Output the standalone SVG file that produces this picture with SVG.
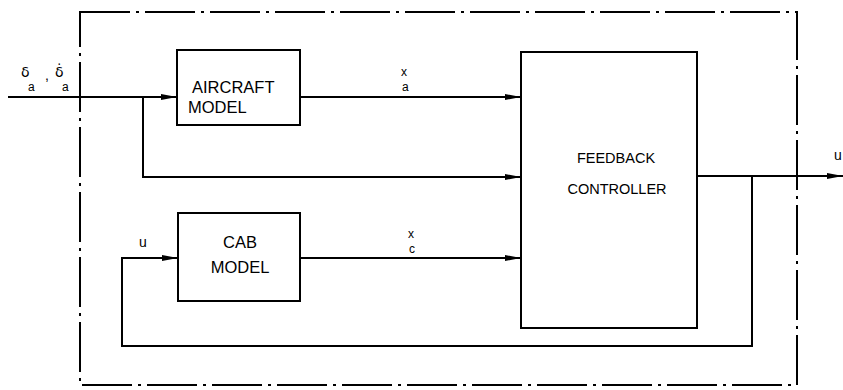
<svg xmlns="http://www.w3.org/2000/svg" width="843" height="390" viewBox="0 0 843 390">
<defs>
<marker id="ah" viewBox="0 0 16 8" refX="16" refY="4" markerWidth="16" markerHeight="8" markerUnits="userSpaceOnUse" orient="auto">
<path d="M0,1 L16,4 L0,7 Z" fill="#000"/>
</marker>
<style>
.ln{fill:none;stroke:#000;stroke-width:2}
.box{fill:#fff;stroke:#000;stroke-width:2}
.dash{fill:none;stroke:#000;stroke-width:2;stroke-dasharray:50 6 3 6}
.t{font-family:"Liberation Sans",Arial,sans-serif;fill:#000}
.dv{font-family:"DejaVu Sans",sans-serif;fill:#000}
.big{font-size:16.5px}
.mid{font-size:14.5px}
.sm{font-size:14px}
.xs{font-size:12px}
</style>
</defs>
<rect width="843" height="390" fill="#fff"/>
<g id="boundary">
<rect class="dash" x="80" y="12" width="717" height="373"/>
</g>
<g id="connectors">
<path class="ln" d="M8,97 H177" marker-end="url(#ah)"/>
<path class="ln" d="M143,97 V177 H521" marker-end="url(#ah)"/>
<path class="ln" d="M300,97 H521" marker-end="url(#ah)"/>
<path class="ln" d="M300,258 H521" marker-end="url(#ah)"/>
<path class="ln" d="M697,176 H843" marker-end="url(#ah)"/>
<path class="ln" d="M752,176 V346 H122 V258 H178" marker-end="url(#ah)"/>
</g>
<g id="aircraft-model">
<rect class="box" x="177" y="50" width="123" height="75"/>
<text class="t big" x="192" y="93">AIRCRAFT</text>
<text class="t big" x="188" y="113">MODEL</text>
</g>
<g id="cab-model">
<rect class="box" x="178" y="213" width="122" height="88"/>
<text class="t big" x="240" y="248" text-anchor="middle">CAB</text>
<text class="t big" x="240" y="273" text-anchor="middle">MODEL</text>
</g>
<g id="feedback-controller">
<rect class="box" x="521" y="52" width="176" height="276"/>
<text class="t mid" x="616" y="163" text-anchor="middle">FEEDBACK</text>
<text class="t mid" x="617" y="194" text-anchor="middle">CONTROLLER</text>
</g>
<g id="labels">
<text class="dv sm" x="21" y="77">δ</text>
<text class="t xs" x="28" y="91">a</text>
<text class="t sm" x="45" y="80">,</text>
<text class="dv sm" x="55" y="77">δ̇</text>
<text class="t xs" x="62" y="91">a</text>
<text class="t xs" x="401" y="76">x</text>
<text class="t xs" x="402" y="91">a</text>
<text class="t xs" x="408" y="238">x</text>
<text class="t xs" x="409" y="253">c</text>
<text class="t sm" x="139" y="247">u</text>
<text class="t sm" x="834" y="160">u</text>
</g>
</svg>
